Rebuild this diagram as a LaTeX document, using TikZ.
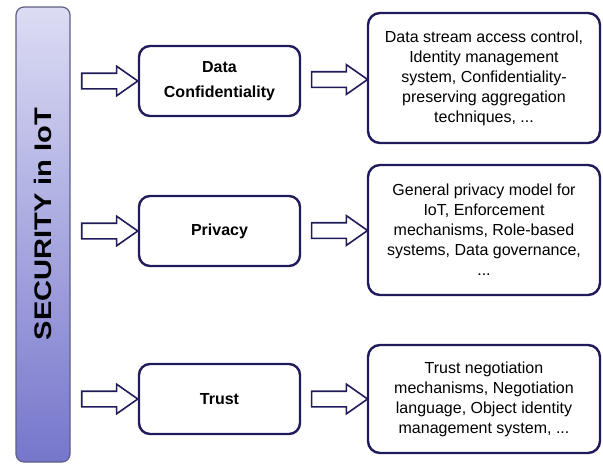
\documentclass[tikz,border=0pt]{standalone}
\usepackage{fontspec}
\setmainfont{Liberation Sans}
\usetikzlibrary{shapes.arrows, calc}
\definecolor{navyline}{HTML}{201C5C}
\definecolor{barframe}{HTML}{5E5E86}
\definecolor{bartop}{HTML}{DCDCF4}
\definecolor{barbottom}{HTML}{7676CC}

\begin{document}
\begin{tikzpicture}[x=1pt, y=-1pt,
    topic/.style={draw=navyline, line width=2.4pt, rounded corners=11pt, minimum width=161pt, minimum height=70pt, align=center, font=\fontsize{16}{25}\selectfont\bfseries},
    items/.style={draw=navyline, line width=2.4pt, rounded corners=12pt, minimum width=232pt, align=center, inner sep=0pt, font=\fontsize{16}{20}\selectfont},
    fatarrow/.style={single arrow, draw=navyline, fill=white, line width=1.6pt, minimum height=56pt, inner sep=7pt, single arrow head extend=7pt, single arrow tip angle=70}]

    \useasboundingbox (0,0) rectangle (603,464);

    % left bar with the title
    \node[draw=barframe, line width=1.2pt, rounded corners=8pt, top color=bartop, bottom color=barbottom, minimum width=54pt, minimum height=455pt] 
    (bar) at (43,234.5) {};
    \node[rotate=90, font=\fontsize{24}{24}\selectfont\bfseries] (title) at (43,224) {\scalebox{1.21}[1]{SECURITY in IoT}};

    % middle column
    \node[topic] (dc) at (219.5,81) {Data\\Confidentiality};
    \node[topic] (pv) at (219.5,231) {Privacy};
    \node[topic] (tr) at (219.5,399) {Trust};

    % right column
    \node[items, minimum height=130pt] (list-dc) at (484,78) {
        Data stream access control,\\
        Identity management\\
        system, Confidentiality-\\
        preserving aggregation\\
        techniques, ...
    };
    \node[items, minimum height=130pt] (list-pv) at (484,230) {
        General privacy model for\\
        IoT, Enforcement\\
        mechanisms, Role-based\\
        systems, Data governance,\\
        ...
    };
    \node[items, minimum height=108pt] (list-tr) at (484,399) {
        Trust negotiation\\
        mechanisms, Negotiation\\
        language, Object identity\\
        management system, ...
    };

    % block arrows between the columns
    \foreach \n in {dc, pv, tr} {
        \node[fatarrow] (in-\n) at ($(bar.east |- \n.west)!0.5!(\n.west)$) {};
        \node[fatarrow] (out-\n) at ($(\n.east)!0.5!(list-\n.west)$) {};
    }
\end{tikzpicture}
\end{document}
